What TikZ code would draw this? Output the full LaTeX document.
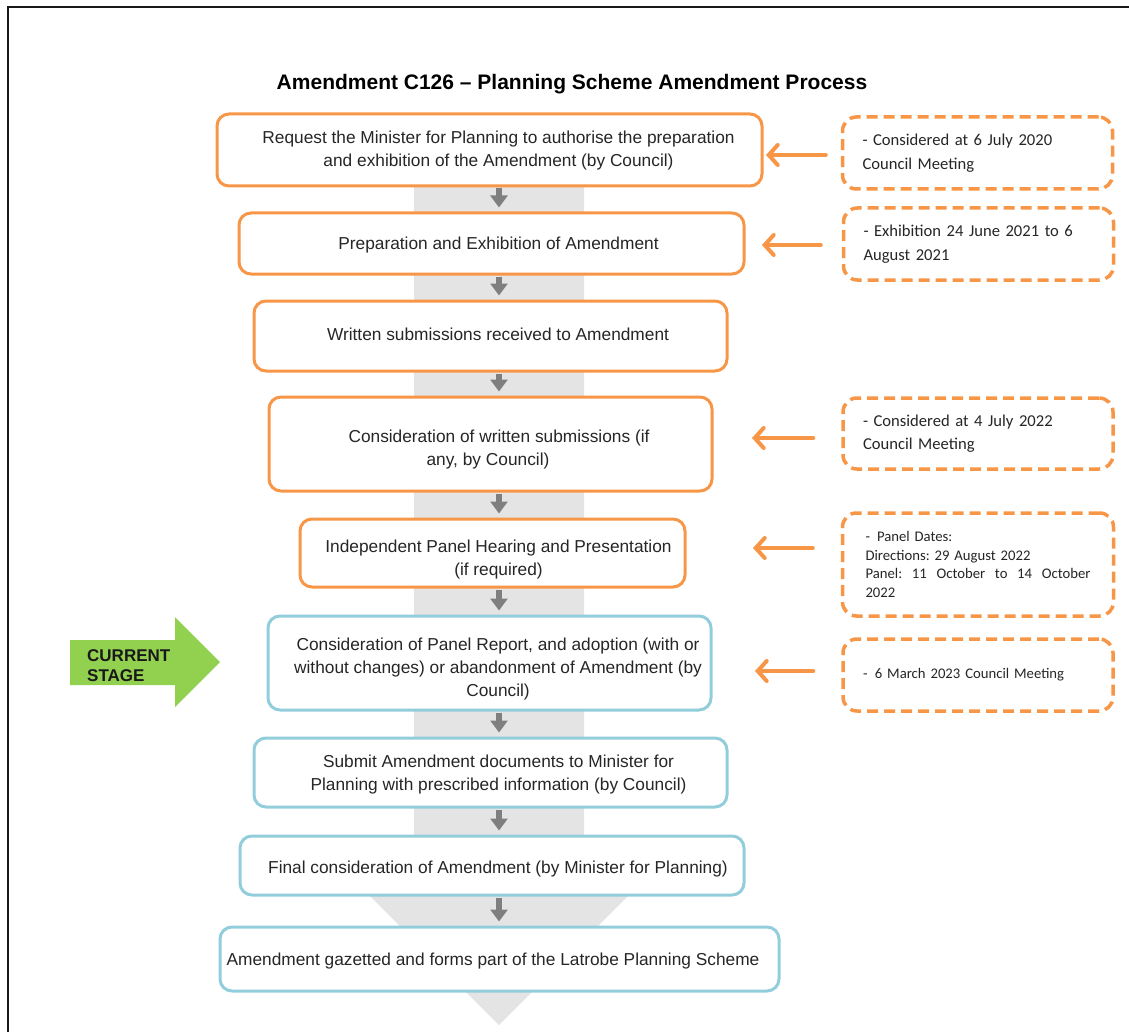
\documentclass[tikz,border=0pt]{standalone}
\usepackage{fontspec}
\setmainfont{Liberation Sans}
\newfontfamily\calfont{Carlito}
\usetikzlibrary{arrows.meta}
\definecolor{boxorange}{HTML}{F79646}
\definecolor{boxblue}{HTML}{92CDDC}
\definecolor{bggray}{HTML}{E4E4E4}
\definecolor{arrgray}{HTML}{7F7F7F}
\definecolor{curgreen}{HTML}{92D050}
\definecolor{txt}{HTML}{262626}
\tikzset{
  obox/.style={draw=boxorange, line width=3pt, rounded corners=12pt, fill=white,
    inner sep=0pt},
  bbox/.style={obox, draw=boxblue},
  btext/.style={align=center, text=txt, inner sep=0pt, font=\fontsize{17.3}{23}\selectfont},
  dbox/.style={draw=boxorange, line width=3.5pt, dash pattern=on 11pt off 6pt,
    rounded corners=14pt, fill=white, align=left, text=txt, inner xsep=20pt,
    inner ysep=0pt, text width=230pt, font=\calfont\fontsize{16.6}{23.5}\selectfont},
  dsmall/.style={font=\calfont\fontsize{14.7}{18.8}\selectfont},
  garrow/.style={draw=arrgray, line width=6pt, -{Triangle[length=12pt,width=17pt]},
    shorten <=1pt, shorten >=4pt},
  oarrow/.style={draw=boxorange, line width=4pt, line cap=round,
    -{Straight Barb[length=9pt,width=20pt,line cap=round]}}
}
\begin{document}
\begin{tikzpicture}[x=1pt,y=-1pt]
\useasboundingbox (0,0) rectangle (1129,1032);
% frame
\draw[line width=2.2pt, color=black!90] (8,1032) -- (8,7) -- (1129,7);
% title
\node[font=\bfseries\fontsize{21}{25}\selectfont, text=black] (title) at (572,84)
  {Amendment C126 -- Planning Scheme Amendment Process};
% background arrow
\fill[bggray] (414,118) -- (584,118) -- (584,880) -- (644,880) -- (499,1025)
  -- (354,880) -- (414,880) -- cycle;
% main boxes
\node[obox, minimum width=545pt, minimum height=72pt] (b1) at (489.5,150) {};
\node[btext] (b1t) at ([xshift=9pt,yshift=-1pt]b1.center)
  {Request the Minister for Planning to authorise the preparation\\and exhibition of the Amendment (by Council)};
\node[obox, minimum width=505pt, minimum height=61pt] (b2) at (491.5,243.5) {};
\node[btext] (b2t) at ([xshift=7pt,yshift=-1.5pt]b2.center) {Preparation and Exhibition of Amendment};
\node[obox, minimum width=473pt, minimum height=70pt] (b3) at (490.5,336) {};
\node[btext] (b3t) at ([xshift=7.5pt,yshift=1.5pt]b3.center) {Written submissions received to Amendment};
\node[obox, minimum width=443pt, minimum height=94pt] (b4) at (490.5,444) {};
\node[btext] (b4t) at ([xshift=8.5pt,yshift=-5.5pt]b4.center)
  {Consideration of written submissions (if\\\hspace*{-22pt}any, by Council)};
\node[obox, minimum width=385pt, minimum height=68pt] (b5) at (492.5,553) {};
\node[btext] (b5t) at ([xshift=6pt,yshift=-7pt]b5.center)
  {Independent Panel Hearing and Presentation\\(if required)};
\node[bbox, minimum width=443pt, minimum height=94pt] (b6) at (489.5,663) {};
\node[btext] (b6t) at ([xshift=8.5pt,yshift=-6.5pt]b6.center)
  {Consideration of Panel Report, and adoption (with or\\without changes) or abandonment of Amendment (by\\Council)};
\node[bbox, minimum width=473pt, minimum height=69pt] (b7) at (490.5,772.5) {};
\node[btext] (b7t) at ([xshift=8pt,yshift=-2pt]b7.center)
  {Submit Amendment documents to Minister for\\Planning with prescribed information (by Council)};
\node[bbox, minimum width=504pt, minimum height=59pt] (b8) at (492,865.5) {};
\node[btext] (b8t) at ([xshift=6pt,yshift=-3.5pt]b8.center)
  {Final consideration of Amendment (by Minister for Planning)};
\node[bbox, minimum width=559pt, minimum height=64pt] (b9) at (499.5,959) {};
\node[btext] (b9t) at ([xshift=-6.5pt,yshift=-2pt]b9.center)
  {Amendment gazetted and forms part of the Latrobe Planning Scheme};
% small arrows
\coordinate (ax) at (499,0);
\draw[garrow] (b1.south -| ax) -- (b2.north -| ax);
\draw[garrow] (b2.south -| ax) -- (b3.north -| ax);
\draw[garrow] (b3.south -| ax) -- (b4.north -| ax);
\draw[garrow] (b4.south -| ax) -- (b5.north -| ax);
\draw[garrow] (b5.south -| ax) -- (b6.north -| ax);
\draw[garrow] (b6.south -| ax) -- (b7.north -| ax);
\draw[garrow] (b7.south -| ax) -- (b8.north -| ax);
\draw[garrow] (b8.south -| ax) -- (b9.north -| ax);
% dashed note boxes
\node[dbox, minimum height=72pt] (d1) at (977.5,153)
  {\raisebox{-2pt}{\parbox{230pt}{- Considered at 6 July 2020\\Council Meeting}}};
\node[dbox, minimum height=72pt] (d2) at (978.5,244)
  {\raisebox{-1.5pt}{\parbox{230pt}{- Exhibition 24 June 2021 to 6\\August 2021}}};
\node[dbox, minimum height=71pt] (d3) at (978,433.5)
  {- Considered at 4 July 2022\\Council Meeting};
\node[dbox, dsmall, minimum height=103pt, inner xsep=23pt, text width=225pt] (d4) at (978,564.5)
  {\frenchspacing -\hspace{7pt}Panel Dates:\\Directions: 29 August 2022\\\makebox[225pt][s]{Panel:\hfill 11\hfill October\hfill to\hfill 14\hfill October}\\2022};
\node[dbox, dsmall, minimum height=72pt] (d5) at (978,675)
  {\raisebox{-2pt}{-\ \,6 March 2023 Council Meeting}};
% orange arrows
\coordinate (t1) at (766,155);
\coordinate (t2) at (762,245);
\coordinate (t3) at (752,438);
\coordinate (t4) at (753,548);
\coordinate (t5) at (755,671);
\draw[oarrow, shorten <=15pt] (t1 -| d1.west) -- (t1);
\draw[oarrow, shorten <=21pt] (t2 -| d2.west) -- (t2);
\draw[oarrow, shorten <=28pt] (t3 -| d3.west) -- (t3);
\draw[oarrow, shorten <=28pt] (t4 -| d4.west) -- (t4);
\draw[oarrow, shorten <=28pt] (t5 -| d5.west) -- (t5);
% current stage arrow
\fill[curgreen] (70,640) -- (175,640) -- (175,617) -- (220,662) -- (175,707)
  -- (175,685) -- (70,685) -- cycle;
\node[font=\bfseries\fontsize{17}{20}\selectfont, align=left, anchor=west,
  inner sep=0pt, text=black!90] (cur) at (87,666) {CURRENT\\STAGE};
\end{tikzpicture}
\end{document}
